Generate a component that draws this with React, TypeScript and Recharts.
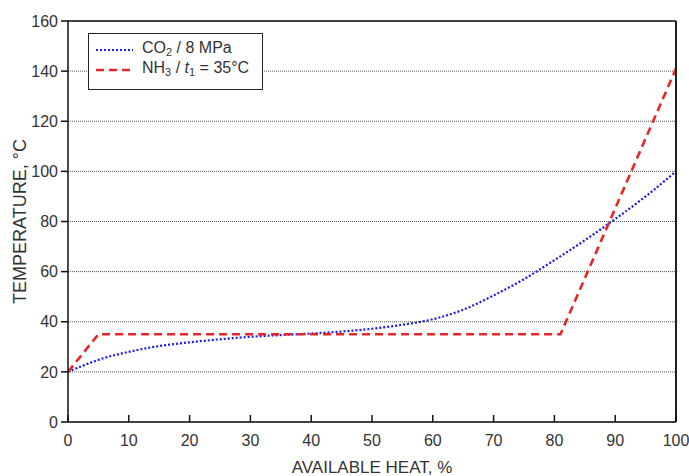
import { LineChart, Line, XAxis, YAxis, CartesianGrid, ReferenceLine, Label } from 'recharts'

// CO2 at 8 MPa – temperature vs available heat
const co2Heat = [0, 2.5, 5, 10, 15, 20, 25, 30, 35, 40, 45, 50, 55, 60, 65, 70, 75, 80, 85, 90, 95, 100]
const co2Temp = [20, 22.5, 24.8, 28, 30.3, 31.8, 33, 34, 34.7, 35.3, 36.1, 37.2, 38.8, 41, 44.8, 50.5, 57, 64.6, 72.5, 81, 90, 100]

// NH3 condensing at 35°C
const nh3Heat = [0, 5, 81, 100]
const nh3Temp = [20, 35, 35, 141]

const xTicks = [0, 10, 20, 30, 40, 50, 60, 70, 80, 90, 100]
const yTicks = [0, 20, 40, 60, 80, 100, 120, 140, 160]

const co2Data = co2Heat.map((h, i) => ({ heat: h, temp: co2Temp[i] }))
const nh3Data = nh3Heat.map((h, i) => ({ heat: h, temp: nh3Temp[i] }))

const FONT = '"Liberation Sans", Arial, sans-serif'
const BLUE = '#1a1ae6'
const RED = '#e8262a'

// legend drawn on top of the plot, like the original
function LegendBox() {
  const sub = { fontSize: 11, verticalAlign: '-3px' as const }
  return (
    <div
      style={{
        position: 'absolute',
        left: 88,
        top: 33,
        width: 175,
        height: 57,
        boxSizing: 'border-box',
        border: '1.5px solid #222',
        background: '#fff',
        fontFamily: FONT,
        fontSize: 16,
        color: '#333',
        padding: '6px 0 0 7px',
        lineHeight: '20px',
      }}
    >
      <div style={{ display: 'flex', alignItems: 'center', height: 20 }}>
        <svg width={38} height={6}>
          <line x1={0} y1={3} x2={37} y2={3} stroke={BLUE} strokeWidth={2.2} strokeDasharray="2 2" />
        </svg>
        <span style={{ marginLeft: 8 }}>
          CO<span style={sub}>2</span> / 8 MPa
        </span>
      </div>
      <div style={{ display: 'flex', alignItems: 'center', height: 20 }}>
        <svg width={38} height={6}>
          <line x1={0} y1={3} x2={37} y2={3} stroke={RED} strokeWidth={2.6} strokeDasharray="8 5" />
        </svg>
        <span style={{ marginLeft: 8 }}>
          NH<span style={sub}>3</span> / <i>t</i>
          <span style={sub}>1</span> = 35°C
        </span>
      </div>
    </div>
  )
}

export default function App() {
  return (
    <div style={{ position: 'absolute', left: 0, top: 0, width: 689, height: 476, background: '#fff' }}>
      <LineChart width={689} height={476} margin={{ top: 21, right: 13, bottom: 0, left: 0 }}>
        <CartesianGrid yAxisId="left" horizontal vertical={false} stroke="#555" strokeDasharray="1 1" />
        <XAxis
          dataKey="heat"
          type="number"
          domain={[0, 100]}
          ticks={xTicks}
          allowDataOverflow
          stroke="#111"
          strokeWidth={1.5}
          tickSize={-7}
          tickMargin={20}
          tick={{ fill: '#333', fontSize: 16, fontFamily: FONT }}
          height={54}
        >
          <Label value="AVAILABLE HEAT, %" position="insideBottom" offset={3} style={{ fill: '#333', fontSize: 17, fontFamily: FONT }} />
        </XAxis>
        <YAxis
          yAxisId="left"
          type="number"
          domain={[0, 160]}
          ticks={yTicks}
          allowDataOverflow
          width={68}
          stroke="#111"
          strokeWidth={1.5}
          tickSize={7}
          tickMargin={3}
          tick={{ fill: '#333', fontSize: 16, fontFamily: FONT }}
        >
          <Label
            value="TEMPERATURE, °C"
            angle={-90}
            position="insideLeft"
            offset={20}
            style={{ textAnchor: 'middle', fill: '#333', fontSize: 18, fontFamily: FONT }}
          />
        </YAxis>
        <YAxis
          yAxisId="right"
          orientation="right"
          type="number"
          domain={[0, 160]}
          ticks={yTicks}
          mirror
          width={1}
          stroke="#111"
          strokeWidth={1.5}
          tickSize={8}
          tick={{ fill: 'none', fontSize: 1 }}
        />
        <ReferenceLine yAxisId="left" y={160} stroke="#111" strokeWidth={1.5} />
        <ReferenceLine yAxisId="left" x={100} stroke="#111" strokeWidth={1.5} />
        <Line
          yAxisId="left"
          data={co2Data}
          dataKey="temp"
          type="monotone"
          stroke={BLUE}
          strokeWidth={2.2}
          strokeDasharray="2 2"
          dot={false}
          isAnimationActive={false}
        />
        <Line
          yAxisId="left"
          data={nh3Data}
          dataKey="temp"
          type="linear"
          stroke={RED}
          strokeWidth={2.6}
          strokeDasharray="8 5"
          dot={false}
          isAnimationActive={false}
        />
      </LineChart>
      <LegendBox />
    </div>
  )
}
